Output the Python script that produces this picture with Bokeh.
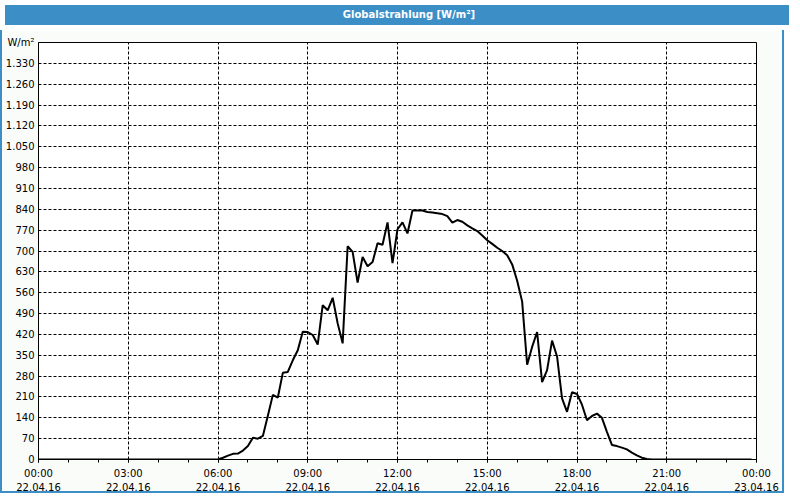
from bokeh.plotting import figure
from bokeh.models import Range1d, FixedTicker, LinearAxis, Div
from bokeh.layouts import column
from bokeh.embed import file_html
from bokeh.resources import INLINE

# ---------------- data ----------------
title_text = "Globalstrahlung [W/m²]"
y_unit = "W/m²"

times = ["00:00",
         "06:00", "06:10", "06:20", "06:30", "06:40", "06:50",
         "07:00", "07:10", "07:20", "07:30", "07:40", "07:50",
         "08:00", "08:10", "08:20", "08:30", "08:40", "08:50",
         "09:00", "09:10", "09:20", "09:30", "09:40", "09:50",
         "10:00", "10:10", "10:20", "10:30", "10:40", "10:50",
         "11:00", "11:10", "11:20", "11:30", "11:40", "11:50",
         "12:00", "12:10", "12:20", "12:30", "12:40", "12:50",
         "13:00", "13:10", "13:20", "13:30", "13:40", "13:50",
         "14:00", "14:10", "14:20", "14:30", "14:40", "14:50",
         "15:00", "15:10", "15:20", "15:30", "15:40", "15:50",
         "16:00", "16:10", "16:20", "16:30", "16:40", "16:50",
         "17:00", "17:10", "17:20", "17:30", "17:40", "17:50",
         "18:00", "18:10", "18:20", "18:30", "18:40", "18:50",
         "19:00", "19:10", "19:20", "19:30", "19:40", "19:50",
         "20:00", "20:10", "20:20", "20:30",
         "23:50"]

values = [0,
          0, 6, 13, 19, 20, 30,
          45, 73, 70, 79, 147, 217,
          208, 291, 294, 333, 367, 429,
          428, 418, 386, 518, 501, 543,
          457, 390, 716, 697, 594, 680,
          649, 663, 726, 721, 796, 659,
          773, 796, 759, 836, 836, 836,
          831, 829, 827, 824, 817, 795,
          804, 798, 786, 776, 767, 752,
          736, 724, 711, 700, 686, 655,
          600, 530, 318, 378, 428, 260,
          300, 399, 346, 205, 160, 226,
          220, 184, 132, 146, 154, 140,
          93, 49, 45, 40, 34, 23,
          14, 6, 2, 0,
          0]

x_tick_hours = [0, 3, 6, 9, 12, 15, 18, 21, 24]
x_minor_hours = [0, 1, 2, 3, 4, 5, 6, 7, 8, 9, 10, 11, 12,
                 13, 14, 15, 16, 17, 18, 19, 20, 21, 22, 23, 24]
x_time_labels = ["00:00", "03:00", "06:00", "09:00", "12:00",
                 "15:00", "18:00", "21:00", "00:00"]
x_date_labels = ["22.04.16", "22.04.16", "22.04.16", "22.04.16", "22.04.16",
                 "22.04.16", "22.04.16", "22.04.16", "23.04.16"]

y_ticks = [0, 70, 140, 210, 280, 350, 420, 490, 560, 630, 700,
           770, 840, 910, 980, 1050, 1120, 1190, 1260, 1330]
y_tick_labels = ["0", "70", "140", "210", "280", "350", "420", "490", "560",
                 "630", "700", "770", "840", "910", "980", "1.050", "1.120",
                 "1.190", "1.260", "1.330"]
y_top = 1400

hours = [int(t[:2]) + int(t[3:]) / 60 for t in times]

# ---------------- styles ----------------
FONT = "DejaVu Sans"
BLUE = "#3c8fc6"
BG = "#fafcfa"

p = figure(width=784, height=463,
           x_range=Range1d(0, 24), y_range=Range1d(0, y_top),
           output_backend="svg", toolbar_location=None,
           min_border_left=30, min_border_right=30,
           min_border_top=12, min_border_bottom=31,
           background_fill_color="white", border_fill_color=BG,
           outline_line_color="black", outline_line_width=1)

p.styles = {"border-left": f"2px solid {BLUE}",
            "border-right": f"2px solid {BLUE}",
            "border-bottom": f"2px solid {BLUE}"}

# x axis (times)
xa = p.xaxis[0]
xa.ticker = FixedTicker(ticks=x_tick_hours, minor_ticks=x_minor_hours)
xa.major_label_overrides = dict(zip(x_tick_hours, x_time_labels))
xa.major_tick_in = 0
xa.major_tick_out = 3
xa.minor_tick_in = 0
xa.minor_tick_out = 3
xa.major_tick_line_color = "black"
xa.minor_tick_line_color = "black"
xa.axis_line_color = "black"
xa.major_label_standoff = 5
xa.major_label_text_font = FONT
xa.major_label_text_font_size = "10px"
xa.major_label_text_color = "black"

# second x axis (dates)
xa2 = LinearAxis(ticker=FixedTicker(ticks=x_tick_hours),
                 major_label_overrides=dict(zip(x_tick_hours, x_date_labels)),
                 axis_line_color=None, major_tick_line_color=None,
                 minor_tick_line_color=None, major_tick_in=0, major_tick_out=0,
                 minor_tick_in=0, minor_tick_out=0,
                 major_label_standoff=1,
                 major_label_text_font=FONT, major_label_text_font_size="10px",
                 major_label_text_color="black")
p.add_layout(xa2, "below")

# y axis
ya = p.yaxis[0]
y_over = dict(zip(y_ticks, y_tick_labels))
y_over[y_top] = y_unit
ya.ticker = FixedTicker(ticks=y_ticks + [y_top], minor_ticks=[])
ya.major_label_overrides = y_over
ya.major_tick_in = 0
ya.major_tick_out = 0
ya.minor_tick_in = 0
ya.minor_tick_out = 0
ya.axis_line_color = "black"
ya.major_label_standoff = 4
ya.major_label_text_font = FONT
ya.major_label_text_font_size = "10px"
ya.major_label_text_color = "black"

# grids
p.xgrid.ticker = FixedTicker(ticks=x_tick_hours[1:-1])
p.ygrid.ticker = FixedTicker(ticks=y_ticks[1:])
for g in (p.xgrid, p.ygrid):
    g.grid_line_color = "black"
    g.grid_line_dash = "3 2"
    g.grid_line_width = 1

p.line(hours, values, line_color="black", line_width=2)

title_div = Div(text=title_text, width=784, height=20,
                styles={"background-color": BLUE, "color": "white",
                        "font-family": FONT, "font-weight": "bold",
                        "font-size": "10px", "text-align": "center",
                        "line-height": "20px", "text-indent": "24px"})

layout = column(title_div, p, spacing=0)

open("out.html", "w").write(file_html(layout, INLINE))
